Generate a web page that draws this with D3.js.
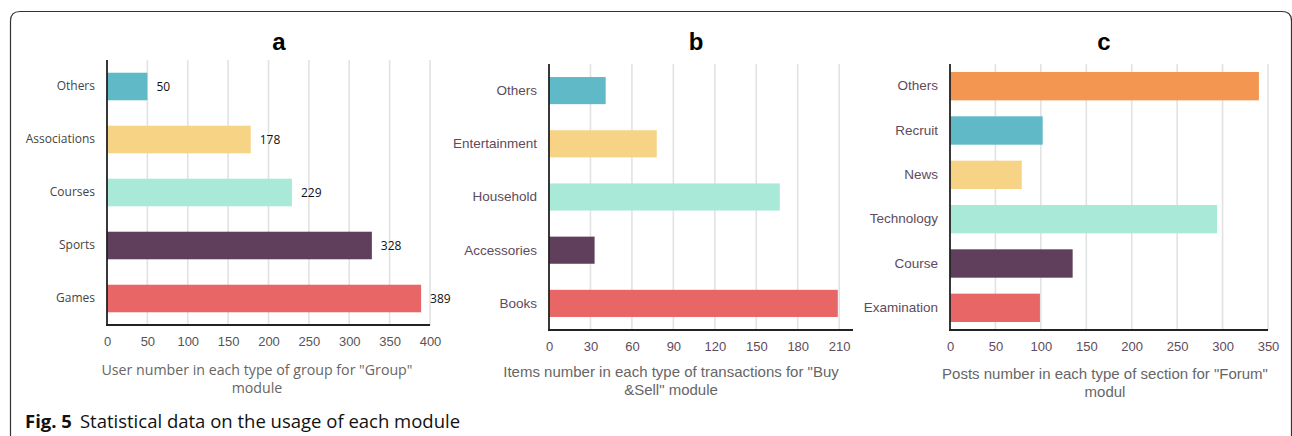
<!DOCTYPE html>
<html>
<head>
<meta charset="utf-8">
<script src="https://cdn.jsdelivr.net/npm/d3@7"></script>
<style>
  body { margin: 0; background: #fff; }
  svg { display: block; }
</style>
</head>
<body>
<div id="chart"></div>
<script>
// data for the three panels
const catsA = ["Others", "Associations", "Courses", "Sports", "Games"];
const valsA = [50, 178, 229, 328, 389];
const ticksA = [0, 50, 100, 150, 200, 250, 300, 350, 400];

const catsB = ["Others", "Entertainment", "Household", "Accessories", "Books"];
const valsB = [41, 78, 167, 33, 209];
const ticksB = [0, 30, 60, 90, 120, 150, 180, 210];

const catsC = ["Others", "Recruit", "News", "Technology", "Course", "Examination"];
const valsC = [340, 102, 79, 294, 135, 99];
const ticksC = [0, 50, 100, 150, 200, 250, 300, 350];

const colors5 = ["#5fb9c7", "#f7d386", "#a9e9d8", "#5f3f5b", "#e86666"];
const colors6 = ["#f39651", "#5fb9c7", "#f7d386", "#a9e9d8", "#5f3f5b", "#e86666"];

const W = 1292, H = 436;

const svg = d3.select("#chart")
    .append("svg")
    .attr("width", W)
    .attr("height", H);

// figure frame (rounded corners, open at bottom/right)
svg.append("path")
    .attr("d", "M10.5,440 L10.5,21 Q10.5,11.5 20,11.5 L1282,11.5 Q1291.5,11.5 1291.5,21 L1291.5,440")
    .attr("fill", "none")
    .attr("stroke", "#333")
    .attr("stroke-width", 1.2);

function panel(cfg) {
    const g = svg.append("g");

    const x = d3.scaleLinear()
        .domain([0, cfg.max])
        .range([cfg.x0, cfg.x1]);

    const y = d3.scaleBand()
        .domain(cfg.cats)
        .range([cfg.y0, cfg.y1])
        .paddingInner(cfg.pad)
        .paddingOuter(cfg.pad / 2);

    // vertical gridlines
    g.append("g")
        .selectAll("line")
        .data(cfg.ticks.slice(1))
        .enter()
        .append("line")
        .attr("x1", d => x(d))
        .attr("x2", d => x(d))
        .attr("y1", cfg.y0)
        .attr("y2", cfg.y1)
        .attr("stroke", "#e2e2e2")
        .attr("stroke-width", 1.6);

    // bars
    g.selectAll(".bar")
        .data(cfg.vals)
        .enter()
        .append("rect")
        .attr("x", x(0))
        .attr("y", (d, i) => y(cfg.cats[i]))
        .attr("width", d => x(d) - x(0))
        .attr("height", y.bandwidth())
        .attr("fill", (d, i) => cfg.colors[i]);

    if (cfg.labels) {
        g.selectAll(".val")
            .data(cfg.vals)
            .enter()
            .append("text")
            .attr("x", d => x(d) + 9)
            .attr("y", (d, i) => y(cfg.cats[i]) + y.bandwidth() / 2)
            .attr("dy", "0.35em")
            .style("font-family", "'Open Sans', sans-serif")
            .style("font-size", "12px")
            .attr("fill", "#111")
            .text(d => d);
    }

    // axes lines
    g.append("line")
        .attr("x1", x(0)).attr("x2", x(0))
        .attr("y1", cfg.y0).attr("y2", cfg.y1 + 1)
        .attr("stroke", "#222").attr("stroke-width", 1.8);
    g.append("line")
        .attr("x1", x(0) - 1).attr("x2", cfg.x1)
        .attr("y1", cfg.y1).attr("y2", cfg.y1)
        .attr("stroke", "#222").attr("stroke-width", 1.8);

    // x tick labels
    const xa = g.append("g")
        .attr("transform", `translate(0,${cfg.y1})`)
        .call(d3.axisBottom(x).tickValues(cfg.ticks).tickSize(0).tickPadding(cfg.tickPad));
    xa.select(".domain").remove();
    xa.selectAll("text")
        .style("font-family", "'Liberation Sans', Arial, sans-serif")
        .style("font-size", "13px")
        .attr("fill", cfg.tickColor);

    // y category labels
    const ya = g.append("g")
        .attr("transform", `translate(${x(0)},0)`)
        .call(d3.axisLeft(y).tickSize(0).tickPadding(12));
    ya.select(".domain").remove();
    ya.selectAll("text")
        .style("font-family", cfg.catFont)
        .style("font-size", cfg.catSize)
        .attr("fill", cfg.catColor);

    // panel letter
    g.append("text")
        .attr("x", cfg.titleX)
        .attr("y", 50)
        .attr("text-anchor", "middle")
        .style("font-family", "'Liberation Sans', Arial, sans-serif")
        .style("font-weight", "bold")
        .style("font-size", "24px")
        .attr("fill", "#000")
        .text(cfg.title);

    // axis title (two lines)
    cfg.xTitle.forEach((line, i) => {
        g.append("text")
            .attr("x", cfg.xTitleX)
            .attr("y", cfg.xTitleY + i * 18)
            .attr("text-anchor", "middle")
            .style("font-family", cfg.xTitleFont)
            .style("font-size", cfg.xTitleSize)
            .attr("fill", "#666")
            .text(line);
    });
}

panel({
    cats: catsA, vals: valsA, ticks: ticksA, colors: colors5, max: 400,
    x0: 107, x1: 430, y0: 60, y1: 325, pad: 0.48, labels: true, tickPad: 12,
    tickColor: "#555", catFont: "'Open Sans', sans-serif", catSize: "12px", catColor: "#444",
    title: "a", titleX: 279,
    xTitle: ["User number in each type of group for \"Group\"", "module"],
    xTitleX: 257, xTitleY: 375, xTitleFont: "'Open Sans', sans-serif", xTitleSize: "14.2px"
});

panel({
    cats: catsB, vals: valsB, ticks: ticksB, colors: colors5, max: 220,
    x0: 549, x1: 853, y0: 64, y1: 330, pad: 0.49, labels: false, tickPad: 12,
    tickColor: "#5e4b5c", catFont: "'Liberation Sans', Arial, sans-serif", catSize: "13.5px", catColor: "#5e4b5c",
    title: "b", titleX: 696,
    xTitle: ["Items number in each type of transactions for \"Buy", "&Sell\" module"],
    xTitleX: 671, xTitleY: 377, xTitleFont: "'Liberation Sans', Arial, sans-serif", xTitleSize: "15px"
});

panel({
    cats: catsC, vals: valsC, ticks: ticksC, colors: colors6, max: 350,
    x0: 950, x1: 1268, y0: 64, y1: 330, pad: 0.36, labels: false, tickPad: 12,
    tickColor: "#5e4b5c", catFont: "'Liberation Sans', Arial, sans-serif", catSize: "13.5px", catColor: "#5e4b5c",
    title: "c", titleX: 1104,
    xTitle: ["Posts number in each type of section for \"Forum\"", "modul"],
    xTitleX: 1105, xTitleY: 379, xTitleFont: "'Liberation Sans', Arial, sans-serif", xTitleSize: "15px"
});

// figure caption
const cap = svg.append("text")
    .attr("x", 25)
    .attr("y", 428)
    .style("font-family", "'Open Sans', sans-serif")
    .style("font-size", "18.5px")
    .attr("fill", "#111");
cap.append("tspan").style("font-weight", "bold").text("Fig. 5");
cap.append("tspan").attr("dx", 8).text("Statistical data on the usage of each module");
</script>
</body>
</html>
